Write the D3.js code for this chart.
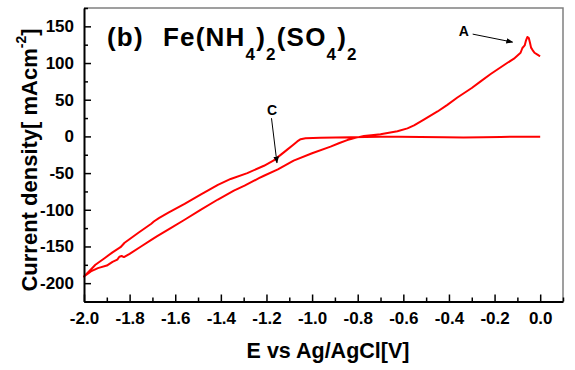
<!DOCTYPE html>
<html>
<head>
<meta charset="utf-8">
<script src="https://cdn.jsdelivr.net/npm/d3@7"></script>
<style>
  body { margin: 0; background: #fff; }
  svg { display: block; font-family: "Liberation Sans", Arial, sans-serif; font-weight: bold; }
</style>
</head>
<body>
<script>
// potential (V) and current density (mA/cm2), one full sweep in scan order
var potential = [
  0.0, -0.1, -0.173, -0.25, -0.336, -0.42, -0.524, -0.62, -0.70, -0.83, -0.963, -1.029, -1.05,
  -1.065, -1.085, -1.109, -1.168, -1.211, -1.284, -1.357, -1.413, -1.489, -1.559, -1.63, -1.67,
  -1.694, -1.705, -1.76, -1.822, -1.840, -1.875, -1.910, -1.95, -1.975, -2.0,
  -1.97, -1.939, -1.90, -1.875, -1.854, -1.845, -1.835, -1.825, -1.80, -1.75, -1.705, -1.679,
  -1.62, -1.559, -1.489, -1.413, -1.343, -1.296, -1.233, -1.211, -1.15, -1.081, -1.0, -0.919,
  -0.88, -0.846, -0.81, -0.773, -0.73, -0.70, -0.626, -0.582, -0.553, -0.51, -0.45, -0.407,
  -0.363, -0.30, -0.261, -0.217, -0.15, -0.115, -0.086, -0.078, -0.068, -0.062, -0.056,
  -0.050, -0.045, -0.040, -0.034, -0.025, -0.012, -0.005, 0.0
];
var current = [
  -0.4, -0.5, -0.7, -1.0, -1.4, -1.2, -0.8, -0.5, -0.4, -1.0, -1.8, -2.5, -3.8,
  -6.8, -12, -18, -32.7, -40, -50, -58, -66, -79.5, -92, -104, -111,
  -116, -119, -131, -145, -151, -158, -166, -175, -183, -191,
  -184, -179.5, -176, -171, -168, -164, -163, -164.5, -160, -150, -141, -136,
  -125, -113.6, -100, -86, -74, -67, -57, -53.6, -45, -33, -23, -14,
  -9, -5, -2, 0.5, 2, 3, 7, 11, 15, 23, 34, 43,
  53, 66, 75, 85, 99, 106, 114, 120.5, 124, 131, 135.5,
  134, 128, 121, 118, 114, 111.4, 110, 109.5
];

var xTicks = [-2.0, -1.8, -1.6, -1.4, -1.2, -1.0, -0.8, -0.6, -0.4, -0.2, 0.0];
var xMinor = [-1.9, -1.7, -1.5, -1.3, -1.1, -0.9, -0.7, -0.5, -0.3, -0.1, 0.1];
var yTicks = [-200, -150, -100, -50, 0, 50, 100, 150];
var yMinor = [-225, -175, -125, -75, -25, 25, 75, 125, 175];

// annotation labels and arrows, in data units
var labels = [
  { text: "A", x: -0.335, y: 137.5 },
  { text: "C", x: -1.175, y: 29.5 }
];
var arrows = [
  { x1: -0.296, y1: 139.4, x2: -0.121, y2: 128.5 },
  { x1: -1.178, y1: 24.8, x2: -1.154, y2: -36 }
];

var w = 575, h = 370;
var x0 = 84, x1 = 563, y0 = 8, y1 = 301.5;

var x = d3.scaleLinear().domain([-2.0, 0.1]).range([x0, x1]);
var y = d3.scaleLinear().domain([-225, 175]).range([y1, y0]);

var svg = d3.select("body").append("svg")
    .attr("width", w)
    .attr("height", h);

svg.append("defs").append("marker")
    .attr("id", "head")
    .attr("viewBox", "0 0 10 10")
    .attr("refX", 9).attr("refY", 5)
    .attr("markerWidth", 7).attr("markerHeight", 7)
    .attr("markerUnits", "userSpaceOnUse")
    .attr("orient", "auto")
  .append("path")
    .attr("d", "M0,1 L10,5 L0,9 Z")
    .attr("fill", "#000");

// top and right frame
svg.append("path")
    .attr("d", "M" + x0 + "," + y0 + "H" + x1 + "V" + y1)
    .attr("fill", "none")
    .attr("stroke", "#808080")
    .attr("stroke-width", 1.5);

// the curve
var pts = potential.map(function(v, i) { return [v, current[i]]; });
var line = d3.line()
    .x(function(d) { return x(d[0]); })
    .y(function(d) { return y(d[1]); });

svg.append("path")
    .datum(pts)
    .attr("d", line)
    .attr("fill", "none")
    .attr("stroke", "#ff0000")
    .attr("stroke-width", 2)
    .attr("stroke-linejoin", "round");

// axes
svg.append("g")
    .attr("transform", "translate(0," + y1 + ")")
    .call(d3.axisBottom(x).tickValues(xTicks).tickSize(-7).tickSizeOuter(0).tickPadding(10)
      .tickFormat(function(d) { return d.toFixed(1); }));
svg.append("g")
    .attr("transform", "translate(0," + y1 + ")")
    .call(d3.axisBottom(x).tickValues(xMinor).tickSize(-4).tickFormat(""))
    .call(function(g) { g.select(".domain").remove(); });

svg.append("g")
    .attr("transform", "translate(" + x0 + ",0)")
    .call(d3.axisLeft(y).tickValues(yTicks).tickSize(-7).tickSizeOuter(0).tickPadding(10)
      .tickFormat(function(d) { return String(d); }));
svg.append("g")
    .attr("transform", "translate(" + x0 + ",0)")
    .call(d3.axisLeft(y).tickValues(yMinor).tickSize(-4).tickFormat(""))
    .call(function(g) { g.select(".domain").remove(); });

svg.selectAll(".domain").attr("stroke", "#000").attr("stroke-width", 2);
svg.selectAll(".tick line").attr("stroke", "#000").attr("stroke-width", 1.5);
svg.selectAll(".tick text")
    .attr("fill", "#000")
    .style("font-family", "'Liberation Sans', Arial, sans-serif")
    .style("font-weight", "bold")
    .style("font-size", "17px");

// axis titles
svg.append("text")
    .attr("x", 328).attr("y", 358)
    .attr("text-anchor", "middle")
    .style("font-size", "21.5px")
    .text("E vs Ag/AgCl[V]");

var yl = svg.append("text")
    .attr("transform", "translate(37,160) rotate(-90)")
    .attr("text-anchor", "middle")
    .style("font-size", "22px");
yl.append("tspan").text("Current density[ mAcm");
yl.append("tspan").attr("dy", -11).style("font-size", "14px").text("-2");
yl.append("tspan").attr("dy", 11).text("]");

// panel title
var title = svg.append("text")
    .attr("x", 107).attr("y", 46)
    .style("font-size", "26px")
    .style("letter-spacing", "1.2px");
title.append("tspan").text("(b)");
var parts = [["Fe(NH", 0], ["4", 1], [")", 0], ["2", 1], ["(SO", 0], ["4", 1], [")", 0], ["2", 1]];
var level = 0;
parts.forEach(function(p, i) {
  var t = title.append("tspan").text(p[0]);
  if (i === 0) t.attr("x", 163);
  t.attr("dy", (p[1] - level) * 14);
  t.style("font-size", p[1] ? "17px" : "26px");
  level = p[1];
});

// annotations
svg.selectAll(".lab")
    .data(labels)
    .enter().append("text")
    .attr("class", "lab")
    .attr("x", function(d) { return x(d.x); })
    .attr("y", function(d) { return y(d.y); })
    .attr("text-anchor", "middle")
    .style("font-size", "14px")
    .text(function(d) { return d.text; });

svg.selectAll(".arr")
    .data(arrows)
    .enter().append("line")
    .attr("class", "arr")
    .attr("x1", function(d) { return x(d.x1); })
    .attr("y1", function(d) { return y(d.y1); })
    .attr("x2", function(d) { return x(d.x2); })
    .attr("y2", function(d) { return y(d.y2); })
    .attr("stroke", "#000")
    .attr("stroke-width", 1)
    .attr("marker-end", "url(#head)");
</script>
</body>
</html>
